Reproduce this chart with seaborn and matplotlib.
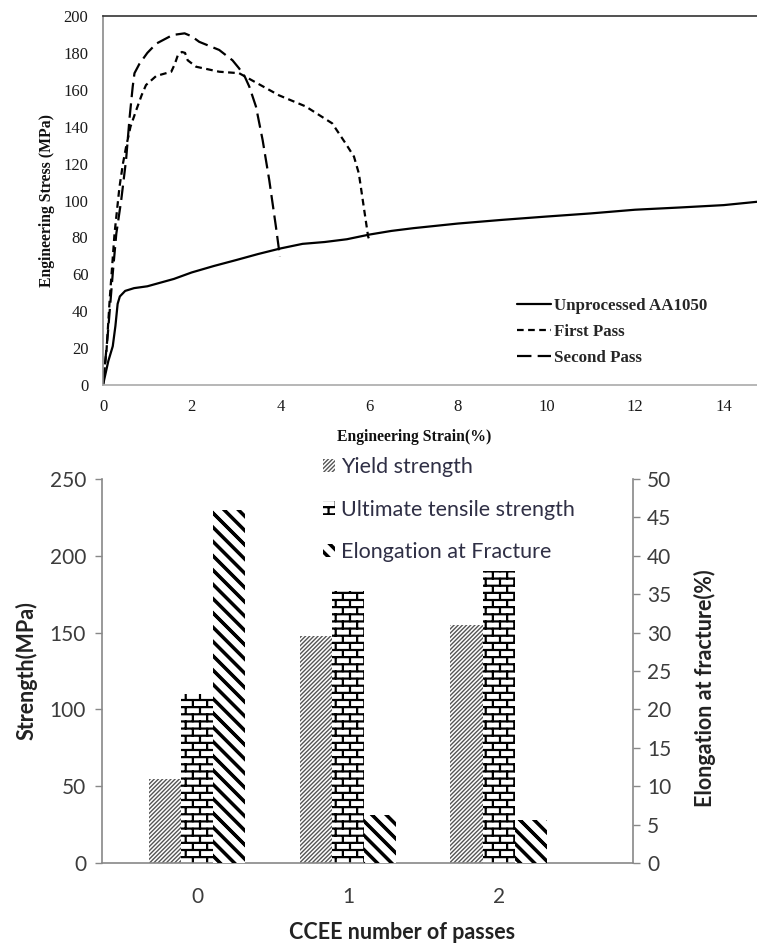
import warnings
warnings.filterwarnings("ignore")
import numpy as np
import pandas as pd
import matplotlib
matplotlib.use("Agg")
import matplotlib.pyplot as plt
import matplotlib.hatch as mhatch
from matplotlib.path import Path
from matplotlib.patches import Patch
from matplotlib.font_manager import FontProperties
import seaborn as sns

# ---------------- data: stress-strain curves ----------------
series_names = ["Unprocessed AA1050", "First Pass", "Second Pass"]

unproc_strain = [0, 0.12, 0.22, 0.28, 0.33, 0.38, 0.5, 0.7, 1.0, 1.3, 1.6, 2.0, 2.5, 3.0, 3.5,
                 4.0, 4.5, 5.0, 5.5, 6.0, 6.5, 7.0, 8.0, 9.0, 10.0, 11.0, 12.0, 13.0, 14.0, 14.75]
unproc_stress = [0, 13, 21, 32, 44, 48, 51, 52.5, 53.5, 55.5, 57.5, 61, 64.5, 67.7, 71,
                 74, 76.5, 77.5, 79, 81.5, 83.5, 85, 87.5, 89.5, 91.3, 93, 95, 96.2, 97.5, 99.3]

first_strain = [0, 0.08, 0.15, 0.26, 0.37, 0.45, 0.52, 0.62, 0.75, 0.87, 0.97, 1.2, 1.54, 1.62,
                1.69, 1.78, 1.85, 1.91, 2.1, 2.62, 3.07, 3.37, 3.97, 4.57, 5.17, 5.47, 5.66,
                5.77, 5.88, 5.98, 6.02]
first_stress = [0, 19, 46, 82, 107, 120, 129, 140, 149, 157, 162.6, 167.5, 169.8, 174,
                178.9, 180.5, 180, 176, 172.5, 169.8, 169, 165, 157, 151, 141.8, 131, 123.8,
                114.7, 96.7, 80.4, 78]

second_strain = [0, 0.11, 0.22, 0.3, 0.41, 0.52, 0.6, 0.67, 0.71, 0.82, 1.0, 1.2, 1.57, 1.84,
                 2.0, 2.17, 2.62, 2.92, 3.07, 3.2, 3.3, 3.45, 3.6, 3.75, 3.9, 3.99]
second_stress = [0, 28, 60.5, 82, 100, 122, 145, 161.7, 169, 174, 180, 185, 189.7, 190.6,
                 189, 186, 181.6, 176, 171.6, 167, 161.7, 150.9, 132.8, 111, 85.8, 69.6]

# ---------------- data: bar chart ----------------
passes = ["0", "1", "2"]
yield_strength = [55, 148, 155]
uts = [110, 177, 190]
elongation = [46, 6.2, 5.6]
bar_series = ["Yield strength", "Ultimate tensile strength", "Elongation at Fracture"]


# ---------------- custom hatches ----------------
class _SegHatch(mhatch.HatchPatternBase):
    char = None

    def __init__(self, hatch, density):
        self.segs = self.make() if (hatch and self.char in hatch) else []
        self.num_vertices = len(self.segs) * 2

    def make(self):
        return []

    def set_vertices_and_codes(self, vertices, codes):
        arr = np.array(self.segs, dtype=float).reshape(-1, 2)
        vertices[:] = arr
        codes[0::2] = Path.MOVETO
        codes[1::2] = Path.LINETO


class BrickHatch(_SegHatch):
    char = "b"

    def make(self):
        R, C = 14, 7
        T = (-0.004, 0.004)
        segs = []
        for i in range(R + 1):
            y0 = i / R
            for d in T:
                segs.append(((-0.1, y0 + d), (1.1, y0 + d)))
        for i in range(R):
            y0 = i / R
            for j in range(C + 1):
                x = (j + 0.5 * (i % 2)) / C
                for d in T:
                    segs.append(((x + d, y0), (x + d, y0 + 1.0 / R)))
        return segs


class ThickBackHatch(_SegHatch):
    char = "k"

    def make(self):
        N = 7
        T = (-0.015, -0.005, 0.005, 0.015)
        segs = []
        for k in range(-1, 2 * N + 2):
            c = k / N
            for d in T:
                cc = c + d
                segs.append(((-1.0, cc + 1.0), (cc + 1.0, -1.0)))
        return segs


mhatch._hatch_types.extend([BrickHatch, ThickBackHatch])

sns.set_theme(style="white")
plt.rcParams["font.family"] = ["Lato", "DejaVu Sans"]
plt.rcParams["hatch.linewidth"] = 1.0

serif = "Liberation Serif"

fig = plt.figure(figsize=(7.57, 9.46), dpi=100)

# ================= top chart =================
ax1 = fig.add_axes([103 / 757, 1 - 385 / 946, (757 - 103) / 757, (385 - 16) / 946])
frames = []
for name, xs, ys in zip(series_names,
                        [unproc_strain, first_strain, second_strain],
                        [unproc_stress, first_stress, second_stress]):
    frames.append(pd.DataFrame({"strain": xs, "stress": ys, "series": name}))
df_curves = pd.concat(frames, ignore_index=True)

sns.lineplot(data=df_curves, x="strain", y="stress", hue="series", style="series",
             hue_order=series_names, style_order=series_names,
             palette={n: "black" for n in series_names},
             dashes={"Unprocessed AA1050": "", "First Pass": (3, 2), "Second Pass": (6.5, 2.8)},
             sort=False, estimator=None, linewidth=1.6, legend=False, ax=ax1)

ax1.set_xlim(0, 14.75)
ax1.set_ylim(0, 200)
ax1.set_xticks(np.arange(0, 15, 2))
ax1.set_yticks(np.arange(0, 201, 20))
ax1.tick_params(axis="both", length=0, labelsize=12, colors="#1a1a1a")
ax1.tick_params(axis="y", pad=10.5)
ax1.tick_params(axis="x", pad=10)
for lab in ax1.get_xticklabels() + ax1.get_yticklabels():
    lab.set_fontfamily(serif)
ax1.set_xlabel("Engineering Strain(%)", fontfamily=serif, fontweight="bold", fontsize=11.3,
               color="#111111")
ax1.set_ylabel("Engineering Stress (MPa)", fontfamily=serif, fontweight="bold", fontsize=11.3,
               color="#111111")
ax1.xaxis.set_label_coords((414 - 103) / 654, -(429 - 385) / 369)
ax1.yaxis.set_label_coords(-(103 - 55) / 654, 0.5)
ax1.spines["right"].set_visible(False)
ax1.spines["top"].set_color("#333333")
ax1.spines["left"].set_color("#8a8a8a")
ax1.spines["bottom"].set_color("#aaaaaa")
for s in ["top", "left", "bottom"]:
    ax1.spines[s].set_linewidth(1.2)

lines = ax1.get_lines()[:3]
ax1.legend(lines, series_names, loc="upper left",
           bbox_to_anchor=(517 / 757, 1 - 298 / 946), bbox_transform=fig.transFigure,
           frameon=False, borderpad=0, borderaxespad=0, handlelength=2.0,
           handletextpad=0.2, labelspacing=0.6,
           prop=FontProperties(family=serif, weight="bold", size=12.2))

# ================= bottom chart =================
ax = fig.add_axes([102 / 757, 1 - 863 / 946, (633 - 102) / 757, (863 - 479) / 946])
ax2 = ax.twinx()

df_bars = pd.DataFrame({
    "passes": passes * 3,
    "value": yield_strength + uts + elongation,
    "series": [bar_series[0]] * 3 + [bar_series[1]] * 3 + [bar_series[2]] * 3,
})
pal = {n: "white" for n in bar_series}
sns.barplot(data=df_bars[df_bars.series != bar_series[2]], x="passes", y="value", hue="series",
            hue_order=bar_series, order=passes, palette=pal, width=0.64, dodge=True,
            errorbar=None, legend=False, ax=ax)
sns.barplot(data=df_bars[df_bars.series == bar_series[2]], x="passes", y="value", hue="series",
            hue_order=bar_series, order=passes, palette=pal, width=0.64, dodge=True,
            errorbar=None, legend=False, ax=ax2)

styles = {
    0: dict(hatch="////////", edgecolor="#555555"),
    1: dict(hatch="b", edgecolor="black"),
    2: dict(hatch="k", edgecolor="black"),
}
for a in (ax, ax2):
    for p in a.patches:
        cx = p.get_x() + p.get_width() / 2
        off = cx - round(cx)
        idx = 0 if off < -0.1 else (2 if off > 0.1 else 1)
        p.set_facecolor("white")
        p.set_edgecolor(styles[idx]["edgecolor"])
        p.set_hatch(styles[idx]["hatch"])
        p.set_linewidth(0)

ax.set_xlim(-0.63, 2.89)
ax.set_ylim(0, 250)
ax2.set_ylim(0, 50)
ax.set_yticks(np.arange(0, 251, 50))
ax2.set_yticks(np.arange(0, 51, 5))

fs = 15
tick_col = "#3c3c3c"
ax.tick_params(axis="y", length=5, width=1, color="#888888", labelsize=fs, labelcolor=tick_col,
               pad=6.5, left=True)
ax2.tick_params(axis="y", length=5, width=1, color="#888888", labelsize=fs, labelcolor=tick_col,
                pad=5, right=True)
ax.tick_params(axis="x", length=0, labelsize=fs, labelcolor=tick_col, pad=17)

for a in (ax, ax2):
    for s in a.spines.values():
        s.set_visible(False)
ax.spines["left"].set_visible(True)
ax.spines["bottom"].set_visible(True)
ax2.spines["right"].set_visible(True)
for s in (ax.spines["left"], ax.spines["bottom"], ax2.spines["right"]):
    s.set_color("#888888")
    s.set_linewidth(1.2)

fsb = 15.5
ax.set_xlabel("CCEE number of passes", fontsize=fsb, fontweight="bold", color="#222222")
ax.xaxis.set_label_coords((402 - 102) / 531, -(922 - 863) / 384)
ax.set_ylabel("Strength(MPa)", fontsize=fsb, fontweight="bold", color="#222222")
ax.yaxis.set_label_coords(-(102 - 38) / 531, 0.5)
ax2.set_ylabel("Elongation at fracture(%)", fontsize=fsb, fontweight="bold", color="#222222",
               rotation=90)
ax2.yaxis.set_label_coords(1 + (694 - 633) / 531, (863 - 688) / 384)
ax2.grid(False)
ax.grid(False)

handles = [Patch(facecolor="white", edgecolor=styles[i]["edgecolor"], hatch=styles[i]["hatch"],
                 linewidth=0) for i in range(3)]
fig.legend(handles, bar_series, loc="upper left",
           bbox_to_anchor=(323 / 757, 1 - 457 / 946), frameon=False, borderpad=0,
           borderaxespad=0, handlelength=0.55, handleheight=0.6, handletextpad=0.3,
           labelspacing=1.05, labelcolor="#2f2f45",
           prop=FontProperties(family="Lato", size=fsb))

fig.savefig("out.png", dpi=100)
